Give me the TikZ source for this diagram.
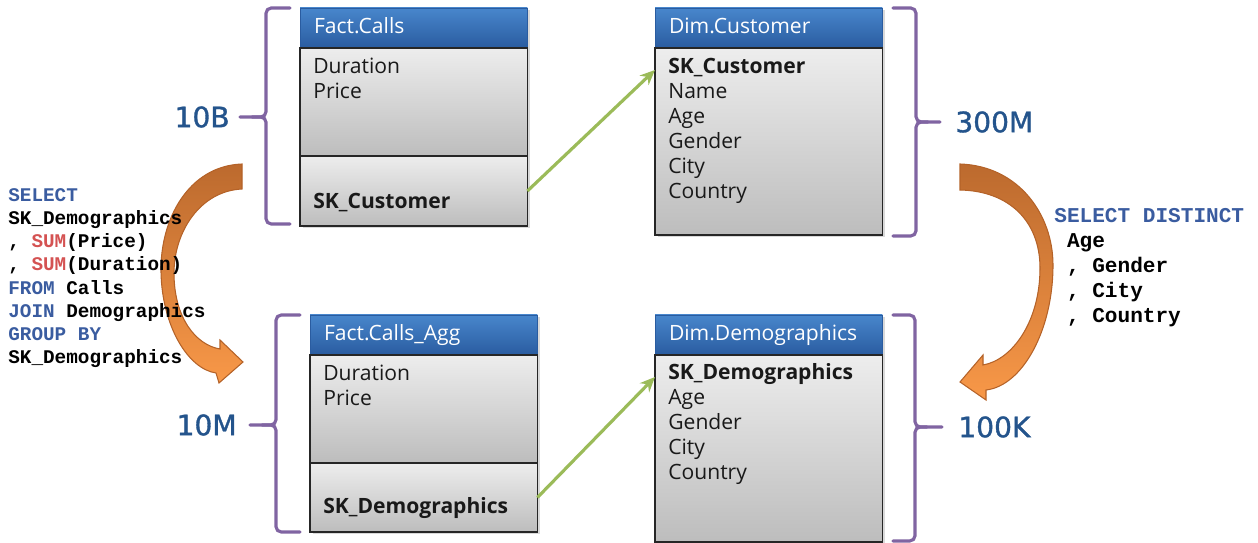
\documentclass[tikz,border=0pt]{standalone}
\usepackage{fontspec}
\setmainfont{Open Sans}
\newfontfamily\codefont{Liberation Mono}
\newfontfamily\countfont[FakeBold=1.2]{DejaVu Sans}
\usepackage{xcolor}
\usetikzlibrary{positioning,shadows,arrows.meta}
\definecolor{hdtop}{RGB}{72,134,204}
\definecolor{hdbot}{RGB}{42,92,160}
\definecolor{bracepurple}{RGB}{128,100,162}
\definecolor{linkgreen}{RGB}{155,187,89}
\definecolor{curvedark}{RGB}{188,106,46}
\definecolor{curvelight}{RGB}{248,152,72}
\definecolor{curveedge}{RGB}{180,98,40}
\definecolor{countblue}{RGB}{36,84,140}
\definecolor{sqlblue}{RGB}{58,92,160}
\definecolor{sqlred}{RGB}{212,82,82}

\begin{document}
\begin{tikzpicture}[
    x=0.02cm, y=-0.02cm,
    head/.style={rectangle, minimum height=0.8cm, text width=3.99cm, inner xsep=0.28cm, inner ysep=0, outer sep=0, align=left, text height=0.32cm, text depth=0.1cm, top color=hdtop, bottom color=hdbot, draw=hdbot, text=white, font=\fontsize{12}{14.23}\selectfont, drop shadow={shadow xshift=0.05cm, shadow yshift=-0.05cm, opacity=0.3}},
    section/.style={rectangle, minimum width=4.55cm, inner sep=0, outer sep=0, top color=black!7, bottom color=black!26, draw=black!85, line width=0.7pt, drop shadow={shadow xshift=0.05cm, shadow yshift=-0.05cm, opacity=0.3}},
    field/.style={inner sep=0, align=left, text=black!90, font=\fontsize{12}{14.23}\selectfont},
    key/.style={field, font=\bfseries\fontsize{12}{14.23}\selectfont},
    sql/.style={inner sep=0, align=left, font=\codefont\bfseries\fontsize{11}{13.2}\selectfont},
    count/.style={inner sep=0, text=countblue, font=\countfont\fontsize{16}{18}\selectfont},
    brace/.style={draw=bracepurple, line width=1.8pt, rounded corners=3pt, line cap=round},
    link/.style={->, >={Stealth[length=0.3cm, width=0.26cm]}, draw=linkgreen, line width=1.8pt},
    curve/.style={draw=curveedge, line width=0.6pt, top color=curvedark, bottom color=curvelight}
]
\useasboundingbox (0,0) rectangle (1258,543);

% Curved arrows
\draw[curve] (242,164) .. controls (188,166) and (160,220) .. (161,272) .. controls (162,326) and (188,369) .. (216,373) -- (219,383) -- (243,362) -- (220,340) -- (220,349) .. controls (196,345) and (174,318) .. (174,273) .. controls (174,232) and (200,191) .. (242,189) -- cycle;
\draw[curve] (960,164) .. controls (1019,166) and (1053,215) .. (1053,265) .. controls (1053,331) and (1022,386) .. (986,390) -- (986,400) -- (960,382) -- (983,355) -- (983,365) .. controls (1012,360) and (1040,322) .. (1040,268) .. controls (1040,222) and (1010,191) .. (960,190) -- cycle;

% Tables
\node[head, anchor=north west] (calls) at (300,8) {Fact.Calls};
\node[section, minimum height=2.16cm, below=0pt of calls] (callsmeas) {};
\node[section, minimum height=1.4cm, below=0pt of callsmeas] (callskey) {};
\node[field, below right=0.19cm and 0.26cm of callsmeas.north west] (callsmeastxt) {Duration\\Price};
\node[key, above right=0.34cm and 0.26cm of callskey.south west, anchor=base west] (callskeytxt) {SK\_Customer};

\node[head, anchor=north west] (cust) at (655,8) {Dim.Customer};
\node[section, minimum height=3.74cm, below=0pt of cust] (custbody) {};
\node[field, below right=0.19cm and 0.26cm of custbody.north west] (custtxt) {\textbf{SK\_Customer}\\Name\\Age\\Gender\\City\\Country};

\node[head, anchor=north west] (agg) at (310,315) {Fact.Calls\_Agg};
\node[section, minimum height=2.16cm, below=0pt of agg] (aggmeas) {};
\node[section, minimum height=1.38cm, below=0pt of aggmeas] (aggkey) {};
\node[field, below right=0.19cm and 0.26cm of aggmeas.north west] (aggmeastxt) {Duration\\Price};
\node[key, above right=0.36cm and 0.26cm of aggkey.south west, anchor=base west] (aggkeytxt) {SK\_Demographics};

\node[head, anchor=north west] (demo) at (655,315) {Dim.Demographics};
\node[section, minimum height=3.74cm, below=0pt of demo] (demobody) {};
\node[field, below right=0.16cm and 0.26cm of demobody.north west] (demotxt) {\textbf{SK\_Demographics}\\Age\\Gender\\City\\Country};

% Links
\draw[link] (callskey.east) -- ([yshift=-0.44cm]custbody.north west);
\draw[link] (aggkey.east) -- ([yshift=-0.44cm]demobody.north west);

% Braces and row counts
\coordinate (callstip) at (240,117);
\coordinate (custtip) at (940,122);
\coordinate (aggtip) at (250,425);
\coordinate (demotip) at (942,427);
\draw[brace] (290,8) -- (266,8) -- (266,117) -- (callstip);
\draw[brace] (252,117) -- (266,117) -- (266,224) -- (290,224);
\draw[brace] (893,8) -- (916,8) -- (916,122) -- (custtip);
\draw[brace] (928,122) -- (916,122) -- (916,236) -- (893,236);
\draw[brace] (300,315) -- (276,315) -- (276,425) -- (aggtip);
\draw[brace] (262,425) -- (276,425) -- (276,532) -- (300,532);
\draw[brace] (893,315) -- (915,315) -- (915,427) -- (demotip);
\draw[brace] (927,427) -- (915,427) -- (915,541) -- (893,541);
\node[count, left=0.2cm of callstip] (callscount) {10B};
\node[count, right=0.3cm of custtip] (custcount) {300M};
\node[count, left=0.26cm of aggtip] (aggcount) {10M};
\node[count, right=0.32cm of demotip] (democount) {100K};

% Queries
\node[sql, anchor=north west] (aggsql) at (8,188) {\textcolor{sqlblue}{SELECT}\\SK\_Demographics\\, \textcolor{sqlred}{SUM}(Price)\\, \textcolor{sqlred}{SUM}(Duration)\\\textcolor{sqlblue}{FROM} Calls\\\textcolor{sqlblue}{JOIN} Demographics\\\textcolor{sqlblue}{GROUP BY}\\SK\_Demographics};
\node[sql, anchor=north west, font=\codefont\bfseries\fontsize{12}{14.23}\selectfont] (demosql) at (1054,208) {\textcolor{sqlblue}{SELECT DISTINCT}\\\hspace*{0.6em}Age\\\hspace*{0.6em}, Gender\\\hspace*{0.6em}, City\\\hspace*{0.6em}, Country};

\end{tikzpicture}
\end{document}
